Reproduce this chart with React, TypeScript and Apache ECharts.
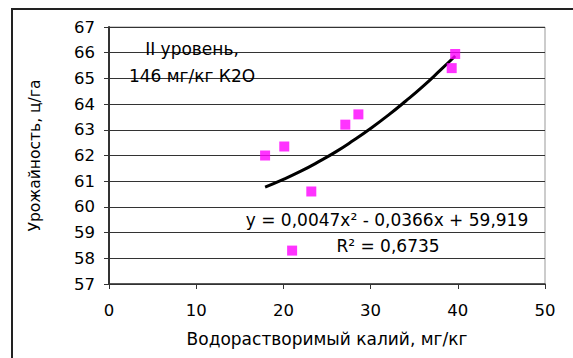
import React, { useEffect, useRef } from "react";
import * as echarts from "echarts";

const pointsX = [17.9, 20.1, 21.0, 23.2, 27.1, 28.6, 39.3, 39.7];
const pointsY = [62.0, 62.35, 58.3, 60.6, 63.2, 63.6, 65.4, 65.95];

const trendX = [17.9, 20, 22, 24, 26, 28, 30, 32, 34, 36, 38, 39.7];
const trendY = [60.77, 61.07, 61.39, 61.75, 62.14, 62.58, 63.05, 63.56, 64.11, 64.69, 65.32, 65.87];

const xTicks = [0, 10, 20, 30, 40, 50];
const yTicks = [57, 58, 59, 60, 61, 62, 63, 64, 65, 66, 67];

const xName = "Водорастворимый калий, мг/кг";
const yName = "Урожайность, ц/га";
const noteLine1 = "II уровень,";
const noteLine2 = "146 мг/кг К2О";
const eqText = "y = 0,0047x² - 0,0366x + 59,919";
const r2Text = "R² = 0,6735";

const FONT = "'DejaVu Sans', sans-serif";

export default function App() {
  const ref = useRef<HTMLDivElement>(null);
  useEffect(() => {
    if (!ref.current) return;
    const chart = echarts.init(ref.current, null, { renderer: "svg" });
    const textStyle = { fontFamily: FONT, fontSize: 17, fill: "#000" };
    chart.setOption({
      animation: false,
      backgroundColor: "#fff",
      textStyle: { fontFamily: FONT },
      grid: {
        left: 109,
        right: 28,
        top: 27,
        bottom: 74,
        show: true,
        borderColor: "#999",
        borderWidth: 1,
      },
      xAxis: {
        type: "value",
        min: xTicks[0],
        max: xTicks[xTicks.length - 1],
        interval: 10,
        name: xName,
        nameLocation: "middle",
        nameGap: 46,
        nameTextStyle: { fontFamily: FONT, fontSize: 17, color: "#000" },
        axisLine: { show: true, onZero: false, lineStyle: { color: "#333", width: 1.5 } },
        axisTick: { show: true, length: 5, lineStyle: { color: "#333" } },
        axisLabel: { fontFamily: FONT, fontSize: 16.5, color: "#000", margin: 18 },
        splitLine: { show: false },
      },
      yAxis: {
        type: "value",
        min: yTicks[0],
        max: yTicks[yTicks.length - 1],
        interval: 1,
        name: yName,
        nameLocation: "middle",
        nameGap: 66,
        nameTextStyle: { fontFamily: FONT, fontSize: 15.5, color: "#000" },
        axisLine: { show: true, onZero: false, lineStyle: { color: "#333", width: 2 } },
        axisTick: { show: true, length: 5, lineStyle: { color: "#333" } },
        axisLabel: { fontFamily: FONT, fontSize: 16.5, color: "#000", margin: 14 },
        splitLine: { show: true, lineStyle: { color: "#333", width: 1 } },
      },
      graphic: [
        {
          type: "rect",
          shape: { x: 12, y: 9, width: 700, height: 500 },
          style: { fill: "none", stroke: "#222", lineWidth: 2 },
          silent: true,
          z: 100,
        },
        {
          type: "text",
          x: 192,
          y: 49,
          style: { ...textStyle, text: noteLine1, textAlign: "center", textVerticalAlign: "middle" },
          z: 100,
        },
        {
          type: "text",
          x: 192,
          y: 76,
          style: { ...textStyle, text: noteLine2, textAlign: "center", textVerticalAlign: "middle" },
          z: 100,
        },
        {
          type: "text",
          x: 387,
          y: 220,
          style: { ...textStyle, text: eqText, textAlign: "center", textVerticalAlign: "middle" },
          z: 100,
        },
        {
          type: "text",
          x: 388,
          y: 246,
          style: { ...textStyle, text: r2Text, textAlign: "center", textVerticalAlign: "middle" },
          z: 100,
        },
      ],
      series: [
        {
          type: "line",
          data: trendX.map((x, i) => [x, trendY[i]]),
          smooth: true,
          showSymbol: false,
          symbol: "none",
          lineStyle: { color: "#000", width: 3 },
          z: 3,
        },
        {
          type: "scatter",
          data: pointsX.map((x, i) => [x, pointsY[i]]),
          symbol: "rect",
          symbolSize: 10,
          itemStyle: { color: "#ff00ff" },
          z: 4,
        },
      ],
    });
    return () => chart.dispose();
  }, []);
  return (
    <div
      ref={ref}
      style={{ position: "fixed", left: 0, top: 0, width: 573, height: 358, background: "#fff" }}
    />
  );
}
